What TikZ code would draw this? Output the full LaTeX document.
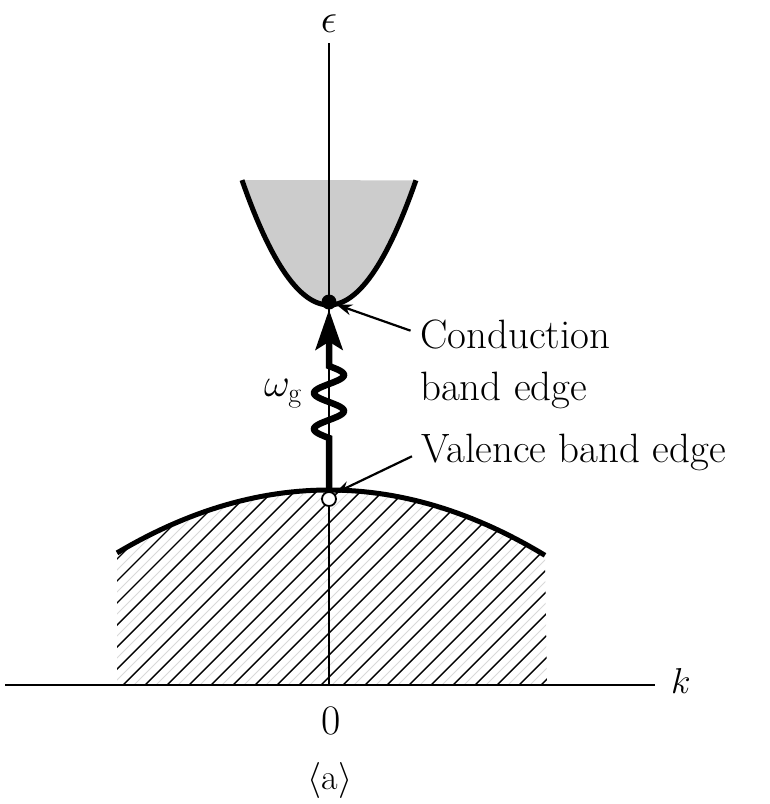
\RequirePackage{fix-cm}
\documentclass[tikz,border=0pt]{standalone}
\usepackage{fontspec}
\usetikzlibrary{arrows.meta}
\begin{document}
\begin{tikzpicture}[x=1pt,y=-1pt,
  axis/.style={line width=2.2pt},
  band/.style={line width=5pt},
  leader/.style={line width=2.2pt,-{Stealth[length=16pt,width=11pt]}},
  lbl/.style={font=\fontsize{41}{49}\selectfont, inner sep=0pt},
  hatchdark/.style={line width=1.4pt},
  hatchlight/.style={gray!30,line width=1pt},
]
\useasboundingbox (0,0) rectangle (770,804);

% conduction band fill
\fill[gray!40] plot[domain=-0.87:0.87,samples=60] ({329+100*\x},{305-165*\x*\x}) -- cycle;

% valence band hatching
\begin{scope}
\clip plot[domain=-2.12:2.16,samples=60] ({329+100*\x},{490+14*\x*\x}) -- (547,685) -- (117,685) -- cycle;
\foreach \s in {-200,-178,...,580} {
  \draw[hatchdark] (\s,700) -- ++(260,-260);
  \draw[hatchlight] (\s+11,700) -- ++(260,-260);
}
\end{scope}

% axes
\draw[axis] (329,43) -- (329,685);
\draw[axis] (5,685) -- (655,685);

% bands
\draw[band] plot[domain=-0.87:0.87,samples=60] ({329+100*\x},{305-165*\x*\x});
\draw[band] plot[domain=-2.12:2.16,samples=60] ({329+100*\x},{490+14*\x*\x});

% band edges
\node[circle,fill,inner sep=0,minimum size=15pt] (cbm) at (329,302) {};
\node[circle,draw,fill=white,line width=1.8pt,inner sep=0,minimum size=14pt] (vbm) at (329,499) {};

% photon arrow
\draw[line width=6.5pt,-{Stealth[length=40pt,width=27pt,inset=8pt]}]
  (vbm.north) -- (329,438)
  -- plot[domain=0:1,samples=80,smooth] ({329-15*sin(720*\x)},{438-72*\x})
  -- (cbm.south);

% labels
\node[lbl,anchor=base west] (cond1) at (420,348) {Conduction};
\node[lbl,anchor=base west] (cond2) at (420,400) {band edge};
\node[lbl,anchor=base west] (val) at (421,462) {Valence band edge};
\draw[leader,shorten <=10pt] (cond1.west) -- (cbm);
\draw[leader,shorten <=10pt] (val.west) -- (vbm.north east);

\node[lbl] (eps) at (329,24) {$\epsilon$};
\node[font=\fontsize{36}{40}\selectfont, inner sep=0pt] (k) at (681,681) {$k$};
\node[font=\fontsize{42}{48}\selectfont, inner sep=0pt] (zero) at (331,721) {0};
\node[font=\fontsize{36}{40}\selectfont, inner sep=0pt] (alabel) at (330,780) {$\langle$a$\rangle$};
\node[font=\fontsize{40}{48}\selectfont, inner sep=0pt, anchor=base east] (omega) at (302,396) {$\omega_{\mathrm g}$};
\end{tikzpicture}
\end{document}
